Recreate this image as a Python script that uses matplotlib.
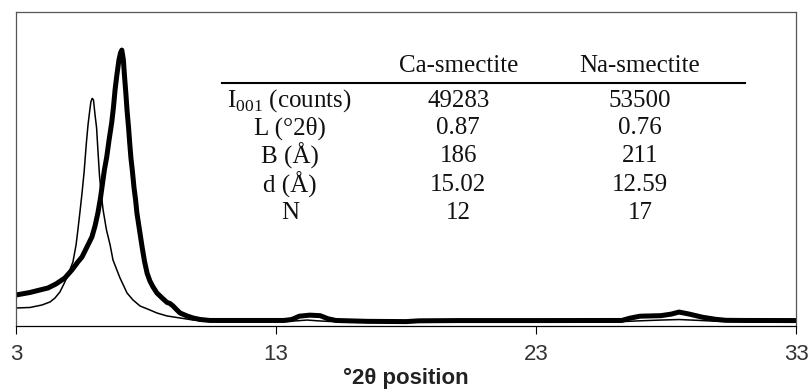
import numpy as np
import matplotlib
matplotlib.use("Agg")
import matplotlib.pyplot as plt

plt.rcParams['mathtext.fontset'] = 'custom'
plt.rcParams['mathtext.rm'] = 'Liberation Serif'

# Ca-smectite (thin line), 2-theta vs counts
ca_2theta = [3.00, 3.54, 4.00, 4.31, 4.50, 4.69, 4.88, 5.04, 5.19, 5.31, 5.38, 5.46,
             5.54, 5.62, 5.71, 5.77, 5.83, 5.88, 5.93, 5.98, 6.04, 6.10, 6.15, 6.21,
             6.27, 6.35, 6.48, 6.62, 6.73, 7.00, 7.27, 7.50, 7.77, 8.15, 8.42, 8.81,
             9.31, 9.81, 10.46, 11.5, 13.3, 13.8, 14.2, 14.6, 15.1, 17.0, 20.0, 23.0,
             26.3, 27.0, 27.8, 28.5, 29.2, 30.0, 31.0, 33.0]
ca_counts = [3490, 3590, 4070, 4660, 5430, 6600, 8540, 10480, 12420, 15710, 18620, 22120,
             25800, 29880, 35700, 38990, 41520, 43460, 44140, 43840, 40930, 38410, 34140, 29290,
             26000, 22500, 18620, 15710, 12800, 9310, 6400, 5040, 3880, 3100, 2520, 1940,
             1550, 1160, 870, 870, 860, 1000, 1150, 1000, 870, 850, 840, 830,
             850, 1000, 1150, 1250, 1100, 900, 850, 840]

# Na-smectite (thick line)
na_2theta = [3.00, 3.54, 3.92, 4.23, 4.54, 4.88, 5.15, 5.38, 5.54, 5.73, 5.92, 6.04,
             6.15, 6.25, 6.33, 6.40, 6.49, 6.58, 6.68, 6.75, 6.81, 6.88, 6.96, 7.02,
             7.07, 7.13, 7.17, 7.23, 7.27, 7.33, 7.37, 7.42, 7.48, 7.54, 7.60, 7.65,
             7.75, 7.85, 7.94, 8.04, 8.15, 8.27, 8.42, 8.62, 8.81, 8.92, 9.04, 9.19,
             9.31, 9.58, 9.81, 10.08, 10.46, 11.5, 13.3, 13.6, 13.9, 14.3, 14.7, 15.0,
             15.3, 16.5, 18.0, 18.5, 20.0, 23.0, 26.3, 26.6, 27.0, 27.8, 28.2, 28.5,
             28.9, 29.4, 29.9, 30.3, 31.0, 33.0]
na_counts = [6010, 6500, 6980, 7370, 8150, 9310, 10860, 12420, 13390, 15330, 17270, 19400,
             21920, 24830, 27740, 30260, 32790, 36080, 39380, 42490, 45780, 48690, 51600, 52960,
             53500, 51600, 48690, 44810, 41900, 38410, 35700, 32590, 29880, 26770, 24440, 21920,
             18620, 15330, 12610, 10280, 8730, 7570, 6400, 5430, 4560, 4370, 3880, 3100,
             2520, 1940, 1550, 1260, 1070, 1070, 1070, 1250, 1900, 2100, 2000, 1400,
             1070, 900, 850, 1000, 1050, 1050, 1070, 1500, 1900, 2000, 2300, 2700,
             2300, 1700, 1300, 1100, 1070, 1050]

# peak parameters table
row_labels = ['I$_{\\rm 001}$ (counts)', 'L (°2θ)', 'B (Å)', 'd (Å)', 'N']
col_labels = ['Ca-smectite', 'Na-smectite']
ca_values = ['49283', '0.87', '186', '15.02', '12']
na_values = ['53500', '0.76', '211', '12.59', '17']

xticks = [3, 13, 23, 33]

fig = plt.figure(figsize=(8.12, 3.89), dpi=100)
ax = fig.add_axes([0.0197, 0.162, 0.9606, 0.806])

ax.plot(ca_2theta, ca_counts, color='black', lw=1.1)
ax.plot(na_2theta, na_counts, color='black', lw=3.6, solid_joinstyle='round')

ax.set_xlim(3, 33)
ax.set_ylim(0, 60800)
ax.set_yticks([])
ax.set_xticks(xticks)
ax.set_xticklabels([str(t) for t in xticks], family=['Liberation Sans Narrow', 'Liberation Sans'],
                   fontsize=16, color='#333333')
ax.tick_params(axis='x', direction='out', length=6, width=0.8, pad=7)
ax.set_xlabel('°2θ position', fontsize=16, fontweight='bold', family='Liberation Sans',
              labelpad=2, color='#222222')

for side in ['left', 'top', 'right']:
    ax.spines[side].set_color('#555555')
    ax.spines[side].set_linewidth(0.9)
ax.spines['bottom'].set_color('black')
ax.spines['bottom'].set_linewidth(0.9)

# table drawn inside the plot area
serif = dict(family='Liberation Serif', fontsize=18, ha='center', va='center',
             transform=ax.transAxes, color='#111111')
col_x = [0.567, 0.800]
row_y = [0.718, 0.632, 0.542, 0.450, 0.360]
ax.text(col_x[0], 0.829, col_labels[0], **serif)
ax.text(col_x[1], 0.829, col_labels[1], **serif)
ax.plot([0.264, 0.935], [0.775, 0.775], color='black', lw=1.5, transform=ax.transAxes)
for lab, cv, nv, y in zip(row_labels, ca_values, na_values, row_y):
    ax.text(0.351, y, lab, **serif)
    ax.text(col_x[0], y, cv, **serif)
    ax.text(col_x[1], y, nv, **serif)

fig.savefig('out.png', dpi=100)
